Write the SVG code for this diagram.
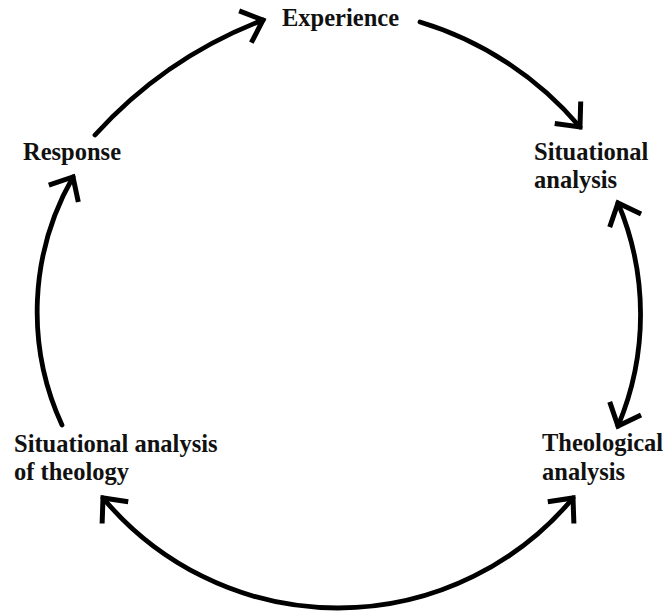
<svg xmlns="http://www.w3.org/2000/svg" width="665" height="611" viewBox="0 0 665 611">
<style>
.lbl{font-family:"Liberation Serif","Times New Roman",serif;font-weight:bold;font-size:24.5px;fill:#111}
.arc{fill:none;stroke:#000;stroke-width:4.8;stroke-linecap:round}
</style>
<defs>
<marker id="ah" markerUnits="userSpaceOnUse" markerWidth="40" markerHeight="40" refX="0" refY="0" viewBox="-25 -20 30 40" orient="auto-start-reverse" overflow="visible">
<path d="M-19,-17 L0,0 L-19,17" fill="none" stroke="#000" stroke-width="5" stroke-linecap="butt" stroke-linejoin="miter"/>
</marker>
</defs>
<rect width="665" height="611" fill="#fff"/>
<g id="connectors">
<path class="arc" d="M95,135 A438,438 0 0 1 263,20" marker-end="url(#ah)"/>
<path class="arc" d="M420,22 A337,337 0 0 1 580,127" marker-end="url(#ah)"/>
<path class="arc" d="M618,203 A287,287 0 0 1 618,426" marker-start="url(#ah)" marker-end="url(#ah)"/>
<path class="arc" d="M573,498 A306,306 0 0 1 103,498" marker-start="url(#ah)" marker-end="url(#ah)"/>
<path class="arc" d="M62,425 A271,271 0 0 1 73,177" marker-end="url(#ah)"/>
</g>
<g id="experience"><text class="lbl" x="282" y="26">Experience</text></g>
<g id="situational-analysis"><text class="lbl" x="534" y="160">Situational</text><text class="lbl" x="534" y="188">analysis</text></g>
<g id="theological-analysis"><text class="lbl" x="542" y="451">Theological</text><text class="lbl" x="542" y="480">analysis</text></g>
<g id="situational-analysis-of-theology"><text class="lbl" x="14" y="452">Situational analysis</text><text class="lbl" x="14" y="480">of theology</text></g>
<g id="response"><text class="lbl" x="23" y="160">Response</text></g>
</svg>
